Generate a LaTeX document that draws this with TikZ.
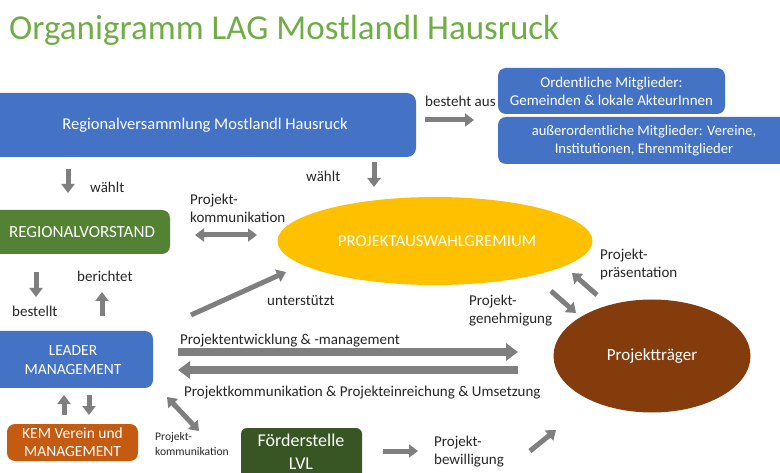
\documentclass[tikz,border=0pt]{standalone}
\usepackage{fontspec}
\setmainfont{Carlito}
\usetikzlibrary{arrows.meta,shapes.geometric}
\definecolor{titlegreen}{HTML}{70AD47}
\definecolor{boxblue}{HTML}{4472C4}
\definecolor{boxgreen}{HTML}{548235}
\definecolor{darkgreen}{HTML}{375623}
\definecolor{kemorange}{HTML}{C55A11}
\definecolor{yellowel}{HTML}{FFC000}
\definecolor{brownel}{HTML}{843C0C}
\definecolor{arrgray}{HTML}{7F7F7F}
\definecolor{txtgray}{HTML}{262626}
\tikzset{
  rbox/.style={rounded corners=8pt, inner sep=0pt, text=white, align=center, font=\fontsize{16}{19}\selectfont},
  blk/.style={draw=arrgray, line width=5pt, -{Triangle[length=9pt,width=13pt]}},
  blkdbl/.style={draw=arrgray, line width=5pt, {Triangle[length=9pt,width=13pt]}-{Triangle[length=9pt,width=13pt]}},
  bigblk/.style={draw=arrgray, line width=8pt, -{Triangle[length=12pt,width=17pt]}},
  lbl/.style={text=txtgray, align=left, font=\fontsize{15}{18}\selectfont, inner sep=0pt},
}
\begin{document}
\begin{tikzpicture}[x=1pt,y=-1pt]
\useasboundingbox (0,0) rectangle (780,473);
% title
\node[anchor=west, text=titlegreen, font=\fontsize{35}{40}\selectfont, inner sep=0pt] (title) at (9,30) {Organigramm LAG Mostlandl Hausruck};

% boxes
\fill[boxblue, rounded corners=9pt] (-10,93) rectangle (416,157);
\node[rbox, font=\fontsize{16.5}{19}\selectfont] (rv) at (205,125) {Regionalversammlung Mostlandl Hausruck};
\node[rbox, fill=boxblue, minimum width=227pt, minimum height=46pt, font=\fontsize{15}{18}\selectfont] (om) at (611.5,91) {Ordentliche Mitglieder:\\Gemeinden \& lokale AkteurInnen};
\fill[boxblue, rounded corners=8pt] (498,117) rectangle (790,164);
\node[rbox, font=\fontsize{14.6}{18}\selectfont] (aom) at (644,140.5) {außerordentliche Mitglieder: Vereine,\\Institutionen, Ehrenmitglieder};

\fill[boxgreen, rounded corners=8pt] (-10,210) rectangle (170,254);
\node[rbox, font=\fontsize{17}{20}\selectfont] (rvst) at (82,232) {REGIONALVORSTAND};

\fill[boxblue, rounded corners=8pt] (-10,331) rectangle (153,388);
\node[rbox, font=\fontsize{15.5}{19}\selectfont] (lm) at (73,360) {LEADER\\MANAGEMENT};

\node[rbox, fill=kemorange, minimum width=131pt, minimum height=37pt, font=\fontsize{15.5}{18}\selectfont] (kem) at (72.5,442.5) {KEM Verein und\\MANAGEMENT};

\fill[darkgreen, rounded corners=6pt] (241,428) rectangle (362,480);
\node[rbox, font=\fontsize{18}{23}\selectfont] (fs) at (301,452) {Förderstelle\\LVL};

% ellipses
\node[ellipse, fill=yellowel, minimum width=315pt, minimum height=88pt, inner sep=0pt] (pag) at (435,241) {};
\node[text=white, font=\fontsize{16.8}{19}\selectfont] at (437,241) {PROJEKTAUSWAHLGREMIUM};
\node[ellipse, fill=brownel, minimum width=197pt, minimum height=113pt, inner sep=0pt] (pt) at (652,356) {};
\node[text=white, font=\fontsize{17}{20}\selectfont] at (pt) {Projektträger};

% arrow coordinates
\coordinate (a1s) at (425,120); \coordinate (a1e) at (474,120);
\coordinate (a2s) at (68,169); \coordinate (a2e) at (68,193);
\coordinate (a3s) at (374,162); \coordinate (a3e) at (374,187);
\coordinate (a4s) at (195,235); \coordinate (a4e) at (257,235);
\coordinate (a5s) at (36,272); \coordinate (a5e) at (36,297);
\coordinate (a6s) at (102,316); \coordinate (a6e) at (102,292);
\coordinate (a7s) at (191,315); \coordinate (a7e) at (286,272);
\coordinate (a8s) at (178,352); \coordinate (a8e) at (518,352);
\coordinate (a9s) at (518,370); \coordinate (a9e) at (178,370);
\coordinate (a10s) at (551,291); \coordinate (a10e) at (576,313);
\coordinate (a11s) at (597,295); \coordinate (a11e) at (572,273);
\coordinate (a12s) at (64,415); \coordinate (a12e) at (64,395);
\coordinate (a13s) at (89,395); \coordinate (a13e) at (89,415);
\coordinate (a14s) at (167,397); \coordinate (a14e) at (199,431);
\coordinate (a15s) at (383,451); \coordinate (a15e) at (418,451);
\coordinate (a16s) at (530,451); \coordinate (a16e) at (556,430);

\draw[blk] (a1s) -- (a1e);
\draw[blk] (a2s) -- (a2e);
\draw[blk] (a3s) -- (a3e);
\draw[blkdbl] (a4s) -- (a4e);
\draw[blk] (a5s) -- (a5e);
\draw[blk] (a6s) -- (a6e);
\draw[blk] (a7s) -- (a7e);
\draw[bigblk] (a8s) -- (a8e);
\draw[bigblk] (a9s) -- (a9e);
\draw[blk] (a10s) -- (a10e);
\draw[blk] (a11s) -- (a11e);
\draw[blk] (a12s) -- (a12e);
\draw[blk] (a13s) -- (a13e);
\draw[blkdbl] (a14s) -- (a14e);
\draw[blk] (a15s) -- (a15e);
\draw[blk] (a16s) -- (a16e);

% labels
\node[lbl, anchor=west] (l1) at (425,101) {besteht aus};
\node[lbl, anchor=west] (l2) at (90,187) {wählt};
\node[lbl, anchor=west] (l3) at (306,176) {wählt};
\node[lbl, anchor=north west] (l4) at (190,194) {Projekt-\\kommunikation};
\node[lbl, anchor=west] (l5) at (77,276) {berichtet};
\node[lbl, anchor=west] (l6) at (12,311) {bestellt};
\node[lbl, anchor=west] (l7) at (267,301) {unterstützt};
\node[lbl, anchor=west] (l8) at (180,341) {Projektentwicklung \& -management};
\node[lbl, anchor=west] (l9) at (184,393) {Projektkommunikation \& Projekteinreichung \& Umsetzung};
\node[lbl, anchor=north west] (l10) at (600,249) {Projekt-\\präsentation};
\node[lbl, anchor=north west] (l11) at (469,295) {Projekt-\\genehmigung};
\node[lbl, anchor=north west, font=\fontsize{11.6}{15}\selectfont] (l12) at (155,432) {Projekt-\\kommunikation};
\node[lbl, anchor=north west] (l13) at (434,436) {Projekt-\\bewilligung};
\end{tikzpicture}
\end{document}
